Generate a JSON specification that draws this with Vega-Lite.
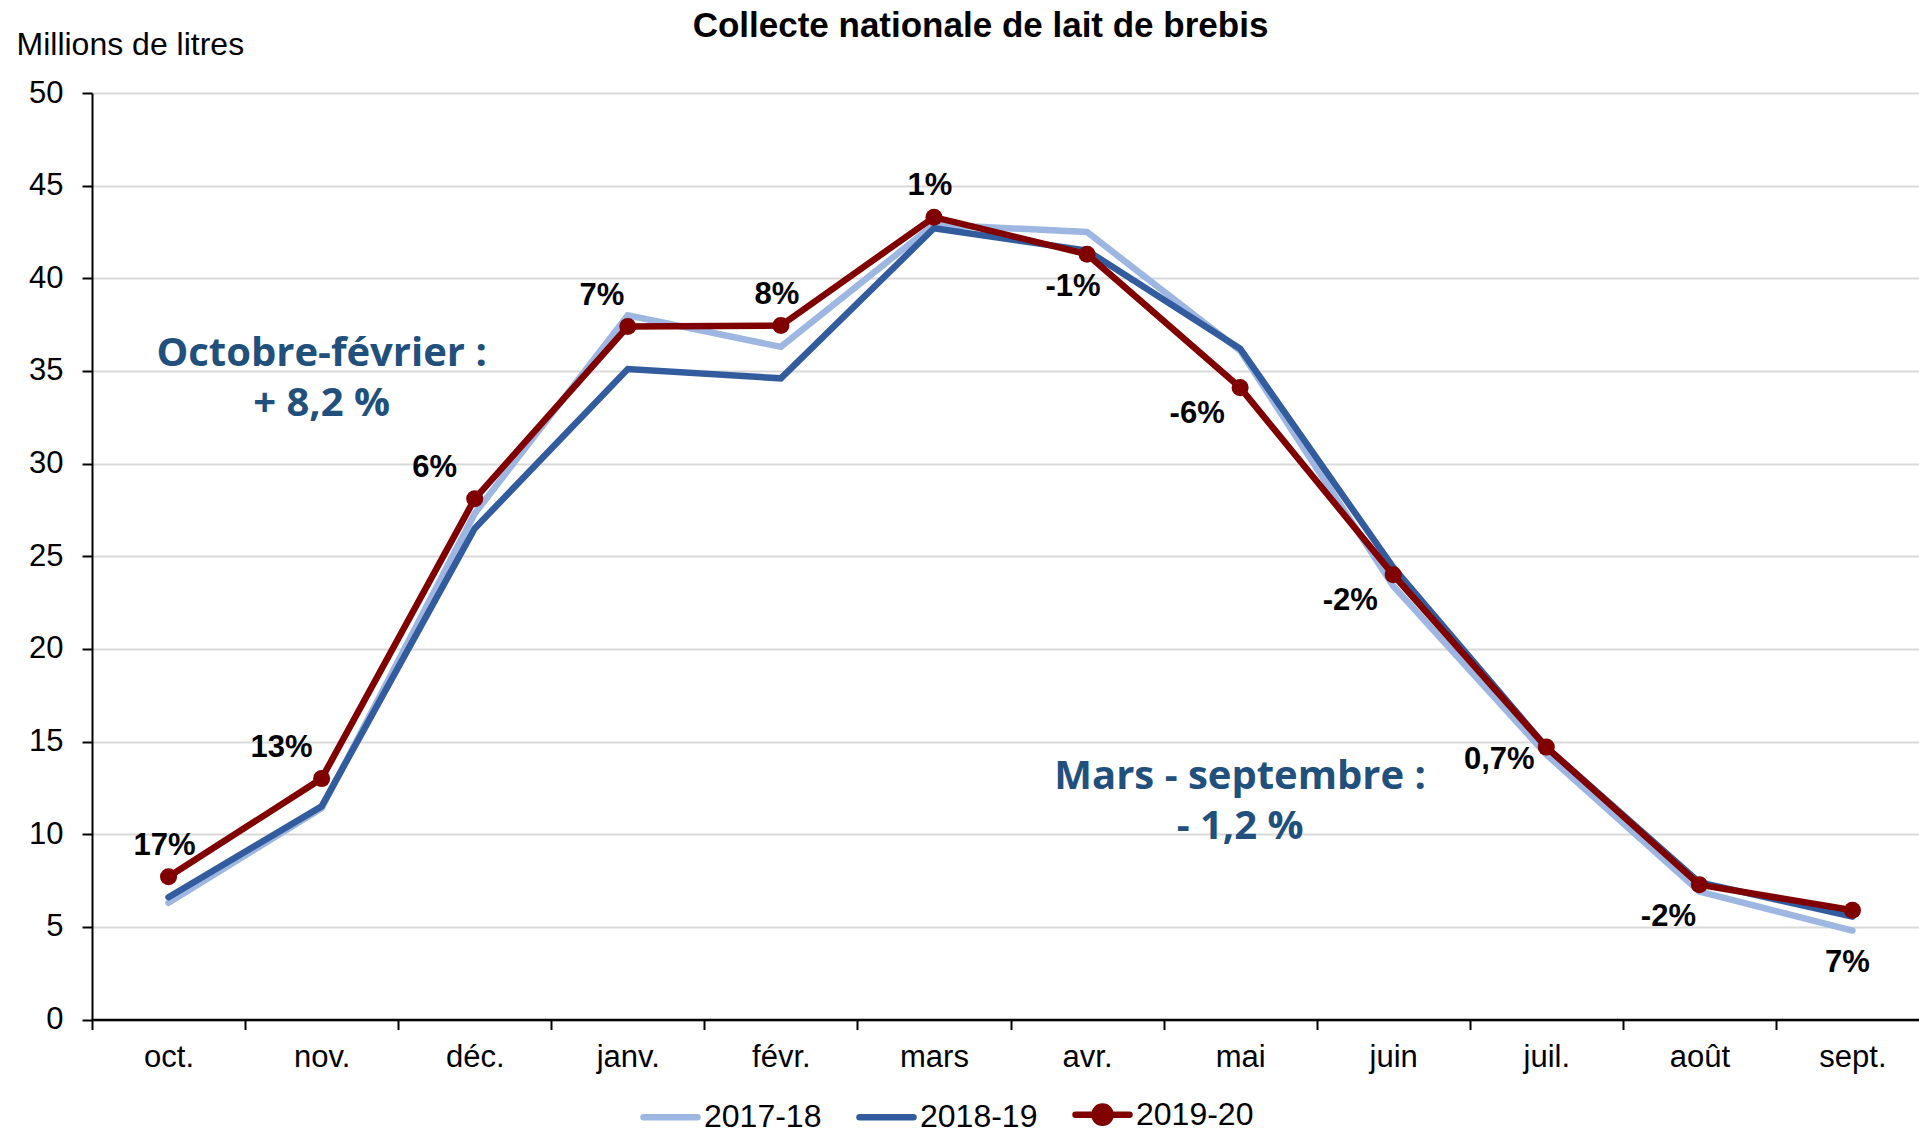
{
  "$schema": "https://vega.github.io/schema/vega-lite/v6.json",
  "width": 1837,
  "height": 926.5,
  "autosize": "none",
  "padding": {"left": 92, "top": 93, "right": 0, "bottom": 150},
  "background": "white",
  "title": {
    "text": "Collecte nationale de lait de brebis",
    "font": "Liberation Sans",
    "fontSize": 35,
    "fontWeight": "bold",
    "color": "black",
    "anchor": "middle",
    "baseline": "alphabetic",
    "offset": 0,
    "dx": -30,
    "dy": 44
  },
  "config": {
    "view": {"stroke": null},
    "axis": {
      "labelFont": "Liberation Sans",
      "labelFontSize": 31,
      "labelColor": "black",
      "titleFont": "Liberation Sans",
      "domainColor": "black",
      "domainWidth": 2,
      "tickColor": "black",
      "tickWidth": 2,
      "tickSize": 10
    }
  },
  "datasets": {
    "collecte": [
      {"month": "oct.", "series": "2017-18", "value": 6.3},
      {"month": "nov.", "series": "2017-18", "value": 11.4},
      {"month": "déc.", "series": "2017-18", "value": 27.3},
      {"month": "janv.", "series": "2017-18", "value": 38.0},
      {"month": "févr.", "series": "2017-18", "value": 36.3},
      {"month": "mars", "series": "2017-18", "value": 42.9},
      {"month": "avr.", "series": "2017-18", "value": 42.5},
      {"month": "mai", "series": "2017-18", "value": 36.1},
      {"month": "juin", "series": "2017-18", "value": 23.4},
      {"month": "juil.", "series": "2017-18", "value": 14.3},
      {"month": "août", "series": "2017-18", "value": 6.9},
      {"month": "sept.", "series": "2017-18", "value": 4.8},
      {"month": "oct.", "series": "2018-19", "value": 6.6},
      {"month": "nov.", "series": "2018-19", "value": 11.5},
      {"month": "déc.", "series": "2018-19", "value": 26.5},
      {"month": "janv.", "series": "2018-19", "value": 35.1},
      {"month": "févr.", "series": "2018-19", "value": 34.6},
      {"month": "mars", "series": "2018-19", "value": 42.7},
      {"month": "avr.", "series": "2018-19", "value": 41.5},
      {"month": "mai", "series": "2018-19", "value": 36.2},
      {"month": "juin", "series": "2018-19", "value": 24.4},
      {"month": "juil.", "series": "2018-19", "value": 14.7},
      {"month": "août", "series": "2018-19", "value": 7.4},
      {"month": "sept.", "series": "2018-19", "value": 5.55},
      {"month": "oct.", "series": "2019-20", "value": 7.7},
      {"month": "nov.", "series": "2019-20", "value": 13.0},
      {"month": "déc.", "series": "2019-20", "value": 28.1},
      {"month": "janv.", "series": "2019-20", "value": 37.4},
      {"month": "févr.", "series": "2019-20", "value": 37.45},
      {"month": "mars", "series": "2019-20", "value": 43.3},
      {"month": "avr.", "series": "2019-20", "value": 41.3},
      {"month": "mai", "series": "2019-20", "value": 34.1},
      {"month": "juin", "series": "2019-20", "value": 24.0},
      {"month": "juil.", "series": "2019-20", "value": 14.7},
      {"month": "août", "series": "2019-20", "value": 7.27},
      {"month": "sept.", "series": "2019-20", "value": 5.9}
    ],
    "labels": [
      {"month": "oct.", "value": 7.7, "label": "17%", "placement": "above"},
      {"month": "nov.", "value": 13.0, "label": "13%", "placement": "above-left"},
      {"month": "déc.", "value": 28.1, "label": "6%", "placement": "above-left"},
      {"month": "janv.", "value": 37.4, "label": "7%", "placement": "above-left-near"},
      {"month": "févr.", "value": 37.45, "label": "8%", "placement": "above"},
      {"month": "mars", "value": 43.3, "label": "1%", "placement": "above"},
      {"month": "avr.", "value": 41.3, "label": "-1%", "placement": "below"},
      {"month": "mai", "value": 34.1, "label": "-6%", "placement": "below-left"},
      {"month": "juin", "value": 24.0, "label": "-2%", "placement": "below-left"},
      {"month": "juil.", "value": 14.7, "label": "0,7%", "placement": "left"},
      {"month": "août", "value": 7.27, "label": "-2%", "placement": "below-left-near"},
      {"month": "sept.", "value": 5.9, "label": "7%", "placement": "far-below"}
    ],
    "notes": [
      {"month": "nov.", "value": 35.9, "text": "Octobre-février :"},
      {"month": "nov.", "value": 33.2, "text": "+ 8,2 %"},
      {"month": "mai", "value": 13.1, "text": "Mars - septembre :"},
      {"month": "mai", "value": 10.4, "text": "- 1,2 %"}
    ]
  },
  "encoding": {
    "x": {
      "field": "month",
      "type": "nominal",
      "sort": ["oct.", "nov.", "déc.", "janv.", "févr.", "mars", "avr.", "mai", "juin", "juil.", "août", "sept."],
      "scale": {"type": "band", "paddingInner": 0, "paddingOuter": 0},
      "axis": {
        "title": null,
        "labelAngle": 0,
        "tickBand": "extent",
        "labelPadding": 13,
        "domainWidth": 2.5,
        "grid": false
      }
    },
    "y": {
      "field": "value",
      "type": "quantitative",
      "scale": {"domain": [0, 50], "nice": false},
      "axis": {
        "title": "Millions de litres",
        "titleAngle": 0,
        "titleAlign": "left",
        "titleBaseline": "alphabetic",
        "titleX": -76,
        "titleY": -39,
        "titleFontSize": 32,
        "titleFontWeight": "normal",
        "titleColor": "black",
        "values": [0, 5, 10, 15, 20, 25, 30, 35, 40, 45, 50],
        "labelPadding": 19,
        "grid": true,
        "gridColor": "#D9D9D9",
        "gridWidth": 2
      }
    }
  },
  "layer": [
    {
      "data": {"name": "collecte"},
      "mark": {"type": "line", "strokeWidth": 6.5, "strokeCap": "round"},
      "encoding": {
        "color": {
          "field": "series",
          "type": "nominal",
          "scale": {"domain": ["2017-18", "2018-19", "2019-20"], "range": ["#9DB7E2", "#335C9E", "#800000"]},
          "legend": {
            "title": null,
            "orient": "none",
            "direction": "horizontal",
            "legendX": 548,
            "legendY": 991,
            "labelFont": "Liberation Sans",
            "labelFontSize": 32,
            "labelColor": "black",
            "labelOffset": 3,
            "columnPadding": 24,
            "symbolType": "stroke",
            "symbolSize": 2916,
            "symbolStrokeWidth": 6.5,
            "encode": {
              "symbols": {
                "update": {
                  "shape": {"signal": "datum.value === '2019-20' ? 'M-1,0H1M-0.3,0A0.3,0.3 0 1,1 0.3,0A0.3,0.3 0 1,1 -0.3,0Z' : 'M-1,0H1'"},
                  "fill": {"signal": "datum.value === '2019-20' ? '#800000' : 'transparent'"},
                  "strokeCap": {"value": "round"}
                }
              }
            }
          }
        }
      }
    },
    {
      "data": {"name": "collecte"},
      "transform": [{"filter": "datum.series === '2019-20'"}],
      "mark": {"type": "point", "filled": true, "size": 290, "color": "#800000", "opacity": 1}
    },
    {
      "data": {"name": "labels"},
      "transform": [{"filter": "datum.placement === 'above'"}],
      "mark": {"type": "text", "font": "Liberation Sans", "fontSize": 31, "fontWeight": "bold", "color": "black", "dx": -4, "dy": -31},
      "encoding": {"text": {"field": "label"}}
    },
    {
      "data": {"name": "labels"},
      "transform": [{"filter": "datum.placement === 'above-left'"}],
      "mark": {"type": "text", "font": "Liberation Sans", "fontSize": 31, "fontWeight": "bold", "color": "black", "dx": -40, "dy": -31},
      "encoding": {"text": {"field": "label"}}
    },
    {
      "data": {"name": "labels"},
      "transform": [{"filter": "datum.placement === 'above-left-near'"}],
      "mark": {"type": "text", "font": "Liberation Sans", "fontSize": 31, "fontWeight": "bold", "color": "black", "dx": -26, "dy": -30},
      "encoding": {"text": {"field": "label"}}
    },
    {
      "data": {"name": "labels"},
      "transform": [{"filter": "datum.placement === 'below'"}],
      "mark": {"type": "text", "font": "Liberation Sans", "fontSize": 31, "fontWeight": "bold", "color": "black", "dx": -14, "dy": 33},
      "encoding": {"text": {"field": "label"}}
    },
    {
      "data": {"name": "labels"},
      "transform": [{"filter": "datum.placement === 'below-left'"}],
      "mark": {"type": "text", "font": "Liberation Sans", "fontSize": 31, "fontWeight": "bold", "color": "black", "dx": -43, "dy": 26},
      "encoding": {"text": {"field": "label"}}
    },
    {
      "data": {"name": "labels"},
      "transform": [{"filter": "datum.placement === 'below-left-near'"}],
      "mark": {"type": "text", "font": "Liberation Sans", "fontSize": 31, "fontWeight": "bold", "color": "black", "dx": -31, "dy": 32},
      "encoding": {"text": {"field": "label"}}
    },
    {
      "data": {"name": "labels"},
      "transform": [{"filter": "datum.placement === 'left'"}],
      "mark": {"type": "text", "font": "Liberation Sans", "fontSize": 31, "fontWeight": "bold", "color": "black", "dx": -47, "dy": 13},
      "encoding": {"text": {"field": "label"}}
    },
    {
      "data": {"name": "labels"},
      "transform": [{"filter": "datum.placement === 'far-below'"}],
      "mark": {"type": "text", "font": "Liberation Sans", "fontSize": 31, "fontWeight": "bold", "color": "black", "dx": -5, "dy": 53},
      "encoding": {"text": {"field": "label"}}
    },
    {
      "data": {"name": "notes"},
      "mark": {"type": "text", "font": "Open Sans", "fontSize": 40, "fontWeight": "bold", "color": "#22507D"},
      "encoding": {"text": {"field": "text"}}
    }
  ]
}
